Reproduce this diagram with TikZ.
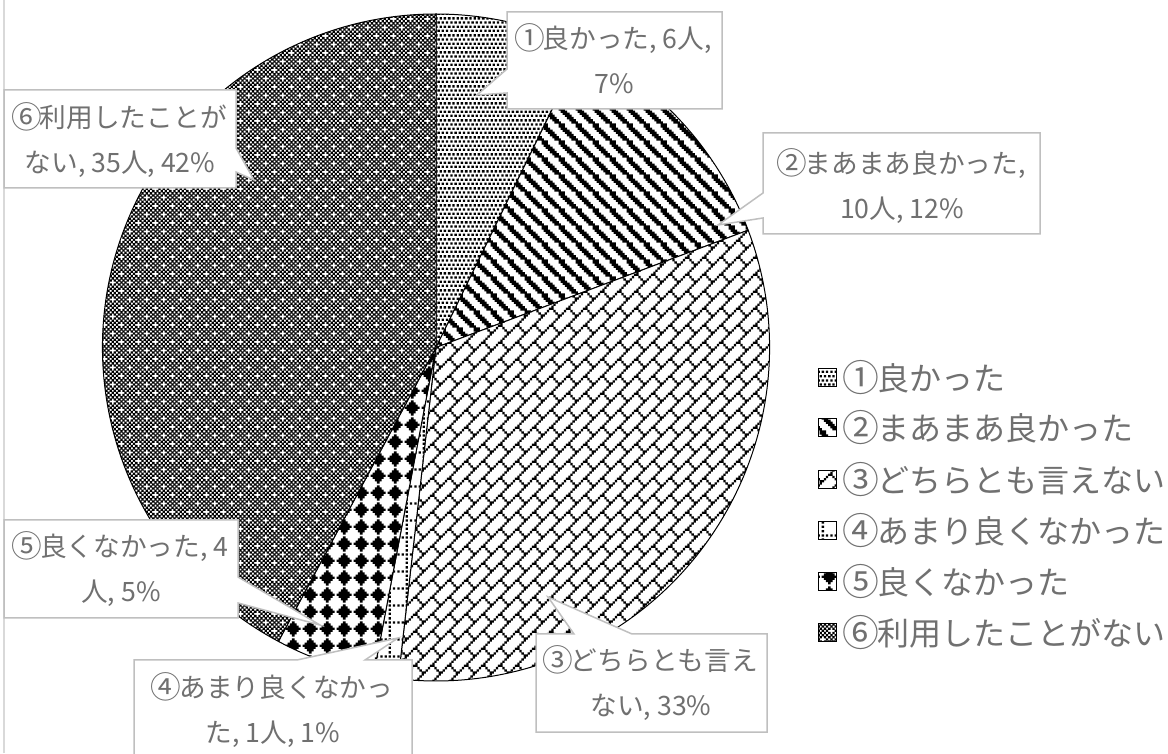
\documentclass[tikz,border=0pt]{standalone}
\usepackage{fontspec}
\usepackage{graphicx}
\setmainfont{Noto Sans CJK JP}
\usetikzlibrary{patterns}
\newcommand\hpshift[5]{\pgfpathrectangle{\pgfpoint{#1*2.16pt+#4-0.1pt}{(7-#2)*2.16pt+#5-0.1pt}}{\pgfpoint{#3*2.16pt+0.2pt}{2.36pt}}}
\newcommand\hp[3]{\hpshift{#1}{#2}{#3}{10.12pt}{11.98pt}\hpshift{#1}{#2}{#3}{-7.16pt}{11.98pt}\hpshift{#1}{#2}{#3}{10.12pt}{-5.3pt}\hpshift{#1}{#2}{#3}{-7.16pt}{-5.3pt}}
\newcommand\tilepattern[2]{\pgfdeclarepatternformonly{#1}{\pgfpointorigin}{\pgfpoint{17.28pt}{17.28pt}}{\pgfpoint{17.28pt}{17.28pt}}{#2\pgfusepath{fill}}}
% dots
\tilepattern{pdots}{\hp{0}{0}{1}\hp{2}{0}{1}\hp{4}{0}{1}\hp{6}{0}{1}\hp{1}{2}{1}\hp{3}{2}{1}\hp{5}{2}{1}\hp{7}{2}{1}\hp{0}{4}{1}\hp{2}{4}{1}\hp{4}{4}{1}\hp{6}{4}{1}\hp{1}{6}{1}\hp{3}{6}{1}\hp{5}{6}{1}\hp{7}{6}{1}}
% wide downward diagonal
\tilepattern{pdiag}{\hp{0}{0}{2}\hp{7}{0}{1}\hp{0}{1}{2}\hp{7}{1}{1}\hp{0}{2}{3}\hp{1}{3}{3}\hp{2}{4}{3}\hp{3}{5}{3}\hp{4}{6}{3}\hp{5}{7}{3}}
% diagonal brick
\tilepattern{pbrick}{\hp{7}{0}{1}\hp{6}{1}{1}\hp{5}{2}{1}\hp{4}{3}{1}\hp{3}{4}{2}\hp{2}{5}{1}\hp{5}{5}{1}\hp{1}{6}{1}\hp{6}{6}{1}\hp{0}{7}{1}\hp{7}{7}{1}}
% dotted grid
\tilepattern{pgrid}{\hp{0}{0}{1}\hp{2}{0}{1}\hp{4}{0}{1}\hp{6}{0}{1}\hp{0}{2}{1}\hp{0}{4}{1}\hp{0}{6}{1}}
% solid diamond
\tilepattern{pdiam}{\hp{3}{0}{1}\hp{2}{1}{3}\hp{1}{2}{5}\hp{0}{3}{7}\hp{1}{4}{5}\hp{2}{5}{3}\hp{3}{6}{1}}
% dotted diamond on a checker
\tilepattern{pcheck}{\hp{2}{0}{1}\hp{4}{0}{1}\hp{6}{0}{1}\hp{1}{1}{1}\hp{3}{1}{1}\hp{5}{1}{1}\hp{7}{1}{1}\hp{0}{2}{1}\hp{2}{2}{1}\hp{4}{2}{1}\hp{6}{2}{1}\hp{1}{3}{1}\hp{3}{3}{1}\hp{5}{3}{1}\hp{7}{3}{1}\hp{0}{4}{1}\hp{2}{4}{1}\hp{6}{4}{1}\hp{1}{5}{1}\hp{3}{5}{1}\hp{5}{5}{1}\hp{7}{5}{1}\hp{0}{6}{1}\hp{2}{6}{1}\hp{4}{6}{1}\hp{6}{6}{1}\hp{1}{7}{1}\hp{3}{7}{1}\hp{5}{7}{1}\hp{7}{7}{1}}
\definecolor{labeltext}{HTML}{707070}
\definecolor{calloutline}{HTML}{BFBFBF}
\definecolor{frameline}{HTML}{D9D9D9}
\newcommand\cn[1]{\makebox[1em][c]{\raisebox{-0.04em}{\scalebox{1.15}{#1}}}}
\newcommand\pieslice[3]{\fill[white] (c) -- ([shift={(#2:333.5pt)}]c) arc[start angle=#2,end angle=#3,radius=333.5pt] -- cycle;
\path[pattern=#1] (c) -- ([shift={(#2:333.5pt)}]c) arc[start angle=#2,end angle=#3,radius=333.5pt] -- cycle;
\draw[sliceedge] (c) -- ([shift={(#2:333.5pt)}]c) arc[start angle=#2,end angle=#3,radius=333.5pt] -- cycle;}
\tikzset{
  sliceedge/.style={draw=black,line width=1pt,line join=round},
  callout/.style={draw=calloutline,fill=white,line width=1.5pt,line join=miter},
  labeltxt/.style={text=labeltext,align=center,inner sep=0pt,font=\fontsize{26.67}{45}\selectfont},
  legendicon/.style={draw=black,line width=1pt,minimum width=18pt,minimum height=18pt,inner sep=0pt},
  legendtext/.style={text=labeltext,anchor=west,inner sep=0pt,font=\fontsize{32}{38}\selectfont},
}
\begin{document}
\begin{tikzpicture}[x=1pt,y=1pt]
\useasboundingbox (0,0) rectangle (1168,753);
\fill[white] (0,0) rectangle (1168,753);
\draw[frameline,line width=2pt] (4,0) -- (4,753);
\coordinate (c) at (436,405.5);
\pieslice{pdots}{90}{64}
\pieslice{pdiag}{64}{20.6}
\pieslice{pbrick}{20.6}{-96.5}
\pieslice{pgrid}{-96.5}{-100.8}
\pieslice{pdiam}{-100.8}{-118.2}
\pieslice{pcheck}{-118.2}{-270}
% callouts
\draw[callout] (507,741) -- (722,741) -- (722,644) -- (507,644) -- (507,660) -- (477,658) -- (507,684) -- cycle;
\node[labeltxt] (lab1) at (614,694) {\cn{①}良かった, 6人,\\7\%};
\draw[callout] (763,620) -- (1040,620) -- (1040,519) -- (763,519) -- (763,535) -- (718,528) -- (763,560) -- cycle;
\node[labeltxt] (lab2) at (902,567) {\cn{②}まあまあ良かった,\\10人, 12\%};
\draw[callout] (536,119) -- (574,119) -- (548,156) -- (632,119) -- (767,119) -- (767,21) -- (536,21) -- cycle;
\node[labeltxt] (lab3) at (651,70) {\cn{③}どちらとも言え\\ない, 33\%};
\draw[callout] (134,-5) -- (134,93) -- (297,93) -- (398,115) -- (365,93) -- (412,93) -- (412,-5) -- cycle;
\node[labeltxt] (lab4) at (273,43) {\cn{④}あまり良くなかっ\\た, 1人, 1\%};
\draw[callout] (4,233) -- (4,135) -- (238,135) -- (238,150) -- (320,128) -- (238,176) -- (238,233) -- cycle;
\node[labeltxt] (lab5) at (121,184) {\cn{⑤}良くなかった, 4\\人, 5\%};
\draw[callout] (4,663) -- (236,663) -- (236,605) -- (254,573) -- (236,581) -- (236,565) -- (4,565) -- cycle;
\node[labeltxt] (lab6) at (120,613) {\cn{⑥}利用したことが\\ない, 35人, 42\%};
% legend
\node[legendicon,pattern=pdots] (i1) at (827.5,375) {};
\node[legendtext] (l1) at (845,375) {\cn{①}良かった};
\node[legendicon,pattern=pdiag] (i2) at (827.5,325) {};
\node[legendtext] (l2) at (845,325) {\cn{②}まあまあ良かった};
\node[legendicon,pattern=pbrick] (i3) at (827.5,273) {};
\node[legendtext] (l3) at (845,273) {\cn{③}どちらとも言えない};
\node[legendicon,pattern=pgrid] (i4) at (827.5,222) {};
\node[legendtext] (l4) at (845,222) {\cn{④}あまり良くなかった};
\node[legendicon,pattern=pdiam] (i5) at (827.5,171) {};
\node[legendtext] (l5) at (845,171) {\cn{⑤}良くなかった};
\node[legendicon,pattern=pcheck] (i6) at (827.5,120) {};
\node[legendtext] (l6) at (845,120) {\cn{⑥}利用したことがない};
\end{tikzpicture}
\end{document}
